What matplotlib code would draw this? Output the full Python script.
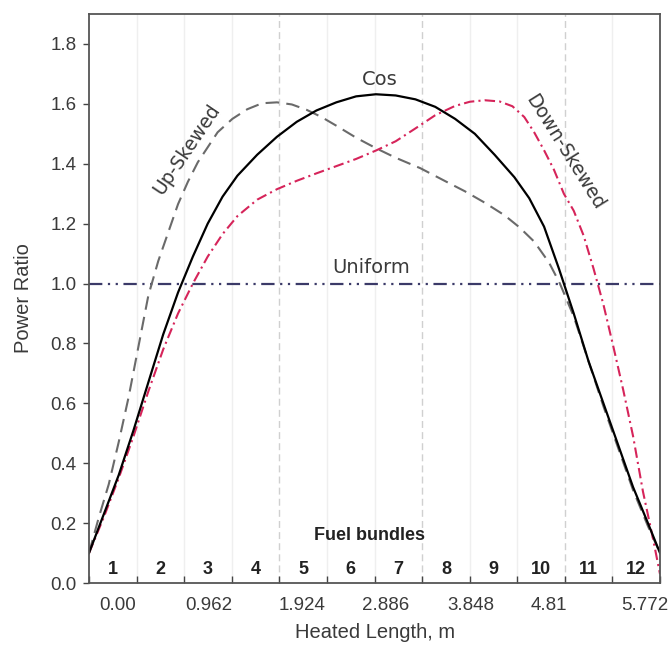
import numpy as np
import matplotlib
matplotlib.use("Agg")
import matplotlib.pyplot as plt

plt.rcParams["font.family"] = ["Liberation Sans", "DejaVu Sans"]

# heated length (m) and power ratio
cos_x = [0, 0.15, 0.30, 0.45, 0.60, 0.75, 0.90, 1.05, 1.20, 1.35, 1.50, 1.70, 1.90,
         2.10, 2.30, 2.50, 2.70, 2.90, 3.10, 3.30, 3.50, 3.70, 3.90, 4.10, 4.30,
         4.45, 4.60, 4.75, 4.90, 5.05, 5.20, 5.35, 5.50, 5.65, 5.772]
cos_y = [0.10, 0.23, 0.36, 0.51, 0.67, 0.83, 0.97, 1.09, 1.20, 1.29, 1.36, 1.43, 1.49,
         1.54, 1.578, 1.605, 1.625, 1.632, 1.628, 1.615, 1.59, 1.55, 1.50, 1.43, 1.355,
         1.285, 1.19, 1.05, 0.90, 0.74, 0.60, 0.46, 0.32, 0.20, 0.10]

up_x = [0, 0.10, 0.20, 0.30, 0.40, 0.50, 0.60, 0.70, 0.80, 0.90, 1.00, 1.10, 1.20,
        1.30, 1.45, 1.60, 1.75, 1.90, 2.05, 2.20, 2.35, 2.50, 2.70, 2.90, 3.10, 3.35,
        3.60, 3.80, 4.00, 4.20, 4.35, 4.50, 4.65, 4.76, 4.90, 5.05, 5.20, 5.35, 5.50,
        5.65, 5.772]
up_y = [0.10, 0.22, 0.33, 0.47, 0.62, 0.79, 0.96, 1.075, 1.17, 1.265, 1.34, 1.405, 1.455,
        1.505, 1.55, 1.582, 1.602, 1.605, 1.598, 1.58, 1.556, 1.527, 1.487, 1.452, 1.42, 1.385,
        1.342, 1.308, 1.27, 1.228, 1.188, 1.14, 1.07, 1.0, 0.89, 0.74, 0.59, 0.45, 0.31,
        0.19, 0.10]

down_x = [0, 0.15, 0.30, 0.45, 0.60, 0.75, 0.90, 1.05, 1.20, 1.35, 1.50, 1.70, 1.90,
          2.10, 2.30, 2.50, 2.70, 2.90, 3.10, 3.30, 3.50, 3.70, 3.85, 4.00, 4.15, 4.28,
          4.40, 4.50, 4.60, 4.70, 4.80, 4.90, 5.00, 5.10, 5.20, 5.30, 5.40, 5.50, 5.60,
          5.70, 5.772]
down_y = [0.10, 0.22, 0.35, 0.49, 0.64, 0.78, 0.90, 1.0, 1.09, 1.165, 1.225, 1.28, 1.315,
          1.343, 1.368, 1.392, 1.416, 1.444, 1.475, 1.518, 1.562, 1.593, 1.607, 1.612, 1.608, 1.592,
          1.556, 1.505, 1.445, 1.38, 1.30, 1.243, 1.16, 1.05, 0.93, 0.79, 0.645, 0.49, 0.305,
          0.15, 0.03]

uniform_x = [0, 5.772]
uniform_y = [1.0, 1.0]

bundles = [str(i) for i in range(1, 13)]
length_labels = ["0.00", "0.962", "1.924", "2.886", "3.848", "4.81", "5.772"]
y_ticks = [0.0, 0.2, 0.4, 0.6, 0.8, 1.0, 1.2, 1.4, 1.6, 1.8]

L = 5.772
w = L / 12
txt = "#3a3a3a"
narrow = ["Liberation Sans Narrow", "DejaVu Sans"]

fig = plt.figure(figsize=(6.71, 6.48), dpi=100)
ax = fig.add_axes([89 / 671, 1 - 583 / 648, 571 / 671, 569 / 648])
ax.set_xlim(0, L)
ax.set_ylim(0, 1.9)

# faint grid at bundle boundaries, dashed every third
for k in range(1, 12):
    if k in (4, 7, 10):
        ax.axvline(k * w, color="#d0d0d0", lw=1.0, ls=(0, (5, 3)), zorder=0)
    else:
        ax.axvline(k * w, color="#efefef", lw=1.0, zorder=0)

ax.plot(uniform_x, uniform_y, color="#3b3a68", lw=1.6,
        dashes=(6, 2.5, 1, 2.5, 1, 2.5))
ax.plot(up_x, up_y, color="#6a6a6a", lw=1.5, dashes=(6.5, 3.5))
ax.plot(down_x, down_y, color="#d6245a", lw=1.5, dashes=(5, 2, 1, 2))
ax.plot(cos_x, cos_y, color="black", lw=1.6)

# curve labels
ax.text(2.94, 1.68, "Cos", fontsize=14, color=txt, family=narrow, ha="center", va="center")
ax.text(2.85, 1.055, "Uniform", fontsize=14, color=txt, family=narrow, ha="center", va="center")
ax.text(0.99, 1.448, "Up-Skewed", fontsize=13.5, color=txt, family=narrow, rotation=56,
        ha="center", va="center", rotation_mode="anchor")
ax.text(4.81, 1.44, "Down-Skewed", fontsize=13.5, color=txt, family=narrow, rotation=-58,
        ha="center", va="center", rotation_mode="anchor")

# fuel bundle numbers
for i, b in enumerate(bundles):
    ax.text((i + 0.5) * w, 0.045, b, fontsize=13, fontweight="bold", color="#222222",
            ha="center", va="center")
ax.text(2.84, 0.16, "Fuel bundles", fontsize=13, fontweight="bold", color="#222222",
        ha="center", va="center")

# x axis: boundary ticks inward, length labels placed as in the original
ax.set_xticks([k * w for k in range(13)], minor=True)
ax.tick_params(axis="x", which="minor", direction="in", length=5, width=1, color="#444444")
label_pos = [0.293, 1.213, 2.153, 3.002, 3.862, 4.650, 5.621]
ax.set_xticks(label_pos)
ax.set_xticklabels(length_labels)
ax.tick_params(axis="x", which="major", length=0, pad=10, labelsize=13.5, labelcolor=txt)

ax.set_yticks(y_ticks)
ax.set_yticklabels([f"{v:.1f}" for v in y_ticks])
ax.tick_params(axis="y", direction="out", length=4, width=1, color="#444444",
               labelsize=13.5, labelcolor=txt, pad=5)

for s in ax.spines.values():
    s.set_color("#555555")
    s.set_linewidth(1.3)

fig.text(24 / 671, 1 - 298 / 648, "Power Ratio", rotation=90, fontsize=14.5, color=txt,
         ha="center", va="center")
fig.text(375 / 671, 1 - 632 / 648, "Heated Length, m", fontsize=14.5, color=txt,
         ha="center", va="center")

fig.savefig("out.png", dpi=100)
